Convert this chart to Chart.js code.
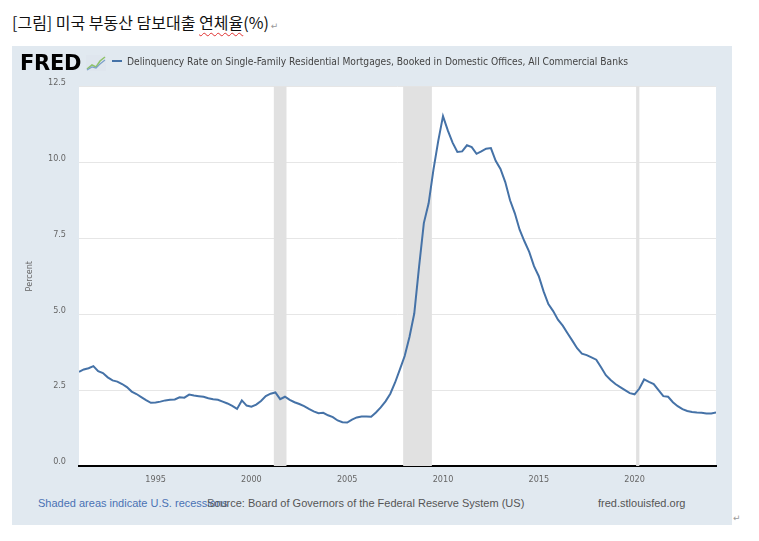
<!DOCTYPE html>
<html>
<head>
<meta charset="utf-8">
<script src="https://cdn.jsdelivr.net/npm/chart.js@4/dist/chart.umd.min.js"></script>
<style>
  body { margin: 0; background: #fff; width: 759px; height: 541px; position: relative; overflow: hidden; }
  #title { position: absolute; left: 12px; top: 12px; font: 16px "Noto Sans CJK KR", sans-serif; line-height: 20px; color: #111; white-space: nowrap; }
  .spell { text-decoration: underline wavy #e03030; text-decoration-thickness: 1px; text-underline-offset: 3px; }
  .pm { color: #999; font: 9px "DejaVu Sans", sans-serif; margin-left: 2px; }
  #fred { position: absolute; left: 12px; top: 46px; width: 720px; height: 479px; background: #e1e9f0; }
  #logo { position: absolute; left: 8px; top: 5px; font: bold 21px "DejaVu Sans", sans-serif; letter-spacing: -0.3px; color: #000; line-height: 24px; z-index: 2; }
  #logo svg { position: absolute; left: 66px; top: 4px; }
  #legend { position: absolute; left: 100px; top: 9px; font: 10.2px "Liberation Sans Narrow", "DejaVu Sans Condensed", sans-serif; color: #444; white-space: nowrap; line-height: 14px; z-index: 2; }
  #legend .dash { display: inline-block; width: 10px; height: 2px; background: #4572a7; vertical-align: middle; margin-right: 5px; position: relative; top: -1px; }
  #wrap { position: absolute; left: 0; top: 22px; width: 720px; height: 424px; }
  .foot { position: absolute; top: 450px; font: 11px "Liberation Sans", sans-serif; color: #555; white-space: nowrap; line-height: 14px; }
  #pm2 { position: absolute; left: 733px; top: 513px; color: #999; font: 9px "DejaVu Sans", sans-serif; }
</style>
</head>
<body>
<div id="title">[그림] 미국 부동산 담보대출 <span class="spell">연체율</span>(%)<span class="pm">↵</span></div>
<div id="fred">
  <div id="logo">FRED<svg width="20" height="16" viewBox="0 0 20 16"><rect width="20" height="16" fill="#dfe6ee"/><polyline points="1,14 6,10 10,12 14,6 19,2" fill="none" stroke="#8fc36a" stroke-width="1.6"/><polyline points="1,15 6,12 10,13 14,9 19,5" fill="none" stroke="#7ba0c8" stroke-width="1.2"/></svg></div>
  <div id="legend"><span class="dash"></span>Delinquency Rate on Single-Family Residential Mortgages, Booked in Domestic Offices, All Commercial Banks</div>
  <div id="wrap"><canvas id="chart"></canvas></div>
  <div class="foot" style="left:26px;color:#4a72b4">Shaded areas indicate U.S. recessions</div>
  <div class="foot" style="left:195px">Source: Board of Governors of the Federal Reserve System (US)</div>
  <div class="foot" style="left:586px">fred.stlouisfed.org</div>
</div>
<div id="pm2">↵</div>
<script>
// quarterly series, first value is 1991 Q1
const startYear = 1991;
const rateValues = [
  3.10, 3.18, 3.22, 3.29,   // 1991
  3.12, 3.06, 2.92, 2.82,   // 1992
  2.78, 2.70, 2.60, 2.45,   // 1993
  2.37, 2.27, 2.17, 2.08,   // 1994
  2.09, 2.12, 2.16, 2.18,   // 1995
  2.19, 2.26, 2.25, 2.35,   // 1996
  2.32, 2.30, 2.28, 2.23,   // 1997
  2.20, 2.18, 2.12, 2.06,   // 1998
  1.98, 1.88, 2.16, 1.99,   // 1999
  1.95, 2.02, 2.14, 2.30,   // 2000
  2.38, 2.42, 2.20, 2.28,   // 2001
  2.18, 2.10, 2.04, 1.97,   // 2002
  1.88, 1.80, 1.74, 1.75,   // 2003
  1.67, 1.61, 1.50, 1.44,   // 2004
  1.43, 1.53, 1.60, 1.63,   // 2005
  1.63, 1.62, 1.76, 1.93,   // 2006
  2.13, 2.38, 2.75, 3.18,   // 2007
  3.62, 4.25, 5.02, 6.56,   // 2008
  8.00, 8.65, 9.75, 10.70,  // 2009
  11.52, 11.05, 10.65, 10.34, // 2010
  10.36, 10.56, 10.50, 10.28, // 2011
  10.36, 10.45, 10.47, 10.05, // 2012
  9.78, 9.35, 8.75, 8.32,   // 2013
  7.78, 7.40, 7.05, 6.58,   // 2014
  6.25, 5.75, 5.33, 5.10,   // 2015
  4.82, 4.62, 4.37, 4.13,   // 2016
  3.88, 3.70, 3.65, 3.58,   // 2017
  3.50, 3.25, 2.99, 2.83,   // 2018
  2.70, 2.60, 2.50, 2.40,   // 2019
  2.36, 2.55, 2.85, 2.77,   // 2020
  2.70, 2.50, 2.30, 2.28,   // 2021
  2.10, 1.97, 1.87, 1.81,   // 2022
  1.78, 1.76, 1.75, 1.73,   // 2023
  1.73, 1.76                // 2024
];

// NBER recessions, decimal years
const recessionStarts = [2001.17, 2007.92, 2020.08];
const recessionEnds = [2001.83, 2009.42, 2020.25];

const xTickYears = [1995, 2000, 2005, 2010, 2015, 2020];
const yTickStep = 2.5;
const yMax = 12.5;

const quarterYears = rateValues.map((v, i) => startYear + i / 4);
const points = rateValues.map((v, i) => ({ x: quarterYears[i], y: v }));

const plotBg = {
  id: "plotBg",
  beforeDraw(chart) {
    const { ctx, chartArea: a } = chart;
    ctx.save();
    ctx.fillStyle = "#ffffff";
    ctx.fillRect(a.left, a.top, a.right - a.left, a.bottom - a.top);
    ctx.restore();
  },
};

const recessionShade = {
  id: "recessionShade",
  beforeDatasetsDraw(chart) {
    const { ctx, chartArea: a, scales } = chart;
    ctx.save();
    ctx.fillStyle = "#e1e1e1";
    for (let i = 0; i < recessionStarts.length; i++) {
      const x0 = scales.x.getPixelForValue(recessionStarts[i]);
      const x1 = scales.x.getPixelForValue(recessionEnds[i]);
      ctx.fillRect(x0, a.top, x1 - x0, a.bottom - a.top);
    }
    ctx.restore();
  },
};

const tickFont = { family: "'Liberation Sans Narrow', 'DejaVu Sans Condensed', sans-serif", size: 9 };

new Chart(document.getElementById("chart"), {
  type: "line",
  data: {
    datasets: [
      {
        label: "Delinquency Rate on Single-Family Residential Mortgages",
        data: points,
        borderColor: "#4572a7",
        borderWidth: 2,
        pointRadius: 0,
        tension: 0,
        fill: false,
      },
    ],
  },
  options: {
    responsive: true,
    maintainAspectRatio: false,
    animation: false,
    devicePixelRatio: 1,
    layout: { padding: { top: 2, right: 16, left: 0, bottom: 0 } },
    plugins: {
      legend: { display: false },
      tooltip: { enabled: false },
    },
    scales: {
      x: {
        type: "linear",
        min: startYear,
        max: quarterYears[quarterYears.length - 1],
        afterBuildTicks(scale) {
          scale.ticks = xTickYears.map(v => ({ value: v }));
        },
        afterFit(scale) {
          scale.height = 26;
        },
        grid: { display: false, drawTicks: false },
        border: { display: true, color: "#000", width: 2 },
        ticks: {
          color: "#666",
          font: tickFont,
          padding: 8,
          maxRotation: 0,
          callback: v => String(v),
        },
      },
      y: {
        min: 0,
        max: yMax,
        afterFit(scale) {
          scale.width = 67;
        },
        grid: { color: "#e6e6e6", lineWidth: 1, drawTicks: false },
        border: { display: false },
        ticks: {
          stepSize: yTickStep,
          color: "#666",
          font: tickFont,
          padding: 13,
          labelOffset: -4,
          callback: v => v.toFixed(1),
        },
        title: {
          display: true,
          text: "Percent",
          color: "#666",
          font: tickFont,
          padding: { top: 12, bottom: 0 },
        },
      },
    },
  },
  plugins: [plotBg, recessionShade],
});
</script>
</body>
</html>
